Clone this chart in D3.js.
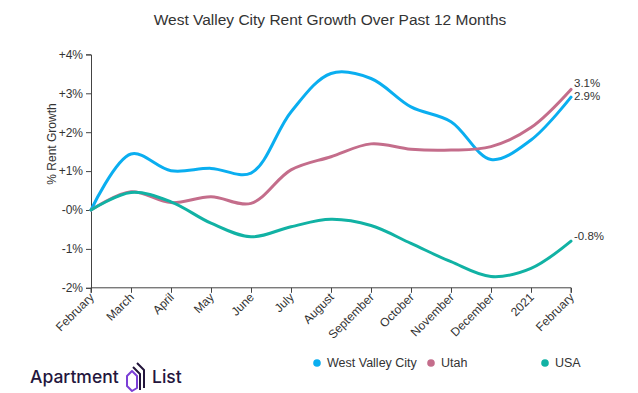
<!DOCTYPE html>
<html>
<head>
<meta charset="utf-8">
<script src="https://cdn.jsdelivr.net/npm/d3@7"></script>
<style>
  body { margin: 0; background: #fff; }
  svg { font-family: Arial, "Liberation Sans", sans-serif; }
</style>
</head>
<body>
<script>
// chart size + plot box
const width = 638;
const height = 393;
const plotLeft = 91, plotRight = 571, plotTop = 54.4, plotBottom = 287.8;

// data
const months = ["February", "March", "April", "May", "June", "July", "August",
                "September", "October", "November", "December", "2021", "February "];
const westValley = [0, 1.44, 1.01, 1.07, 0.95, 2.52, 3.51, 3.38, 2.65, 2.27, 1.30, 1.80, 2.9];
const utah       = [0, 0.47, 0.19, 0.34, 0.17, 1.03, 1.37, 1.70, 1.56, 1.54, 1.63, 2.12, 3.1];
const usa        = [0, 0.45, 0.21, -0.34, -0.69, -0.43, -0.24, -0.40, -0.86, -1.33, -1.71, -1.50, -0.8];
const yTicks = [4, 3, 2, 1, 0, -1, -2];
const yTickLabels = ["+4%", "+3%", "+2%", "+1%", "-0%", "-1%", "-2%"];
const seriesNames = ["West Valley City", "Utah", "USA"];
const endLabels = ["2.9%", "3.1%", "-0.8%"];
const colors = ["#0aaef0", "#c46d8b", "#11b2a4"];

const allSeries = [westValley, utah, usa];

const svg = d3.select("body").append("svg")
    .attr("width", width)
    .attr("height", height);

// title
svg.append("text")
    .attr("x", 330).attr("y", 25)
    .attr("text-anchor", "middle")
    .style("font-size", "15.5px")
    .style("fill", "#333")
    .text("West Valley City Rent Growth Over Past 12 Months");

// scales
const xScale = d3.scalePoint()
    .domain(months)
    .range([plotLeft, plotRight]);

const yScale = d3.scaleLinear()
    .domain([-2, 4])
    .range([plotBottom, plotTop]);

// axes
const leftAxis = d3.axisLeft(yScale)
    .tickValues(yTicks)
    .tickSize(5)
    .tickFormat((d, i) => yTickLabels[i]);

const bottomAxis = d3.axisBottom(xScale)
    .tickSize(5);

const gy = svg.append("g")
    .attr("transform", "translate(" + plotLeft + ",0)")
    .call(leftAxis);
gy.selectAll("text").style("font-size", "12px").style("fill", "#333");
gy.selectAll("line, path").attr("stroke", "#444");

const gx = svg.append("g")
    .attr("transform", "translate(0," + plotBottom + ")")
    .call(bottomAxis);
gx.select("path.domain").attr("d", "M" + plotLeft + ",5V0H" + plotRight + "V5");
gx.selectAll("line, path").attr("stroke", "#444");
gx.selectAll("text")
    .attr("transform", "translate(-4,3) rotate(-45)")
    .attr("dy", "0.35em")
    .attr("y", 6)
    .style("text-anchor", "end")
    .style("font-size", "12px")
    .style("fill", "#333");

// y label
svg.append("text")
    .attr("transform", "translate(56,144) rotate(-90)")
    .attr("text-anchor", "middle")
    .style("font-size", "12px")
    .style("fill", "#333")
    .text("% Rent Growth");

// lines
const line = d3.line()
    .x((d, i) => xScale(months[i]))
    .y(d => yScale(d))
    .curve(d3.curveCatmullRom.alpha(0.5));

svg.selectAll("path.series")
    .data(allSeries)
    .enter()
    .append("path")
    .attr("class", "series")
    .attr("d", line)
    .attr("fill", "none")
    .attr("stroke", (d, i) => colors[i])
    .attr("stroke-width", 3)
    .attr("stroke-linecap", "round");

// end labels (3.1% and 2.9% sit almost on top of each other)
const lastIdx = months.length - 1;
const labelShift = [-1.5, -6, -5];
svg.selectAll("text.endlabel")
    .data(allSeries)
    .enter()
    .append("text")
    .attr("class", "endlabel")
    .attr("x", plotRight + 3)
    .attr("y", (d, i) => yScale(d[lastIdx]) + labelShift[i])
    .attr("dy", "0.35em")
    .style("font-size", "11.5px")
    .style("fill", "#333")
    .text((d, i) => endLabels[i]);

// legend
const legendX = [317, 431, 545];
const legend = svg.selectAll("g.legend")
    .data(seriesNames)
    .enter()
    .append("g")
    .attr("class", "legend")
    .attr("transform", (d, i) => "translate(" + legendX[i] + ",363)");
legend.append("circle")
    .attr("r", 3.8)
    .attr("fill", (d, i) => colors[i]);
legend.append("text")
    .attr("x", 10)
    .attr("dy", "0.35em")
    .style("font-size", "12.5px")
    .style("fill", "#333")
    .text(d => d);

// logo
const logo = svg.append("g").attr("transform", "translate(30,383)");
logo.append("text")
    .style("font-family", "Inter, 'Noto Sans', sans-serif")
    .style("font-size", "17.5px")
    .style("font-weight", 500)
    .style("fill", "#24163d")
    .text("Apartment");
logo.append("text")
    .attr("x", 122)
    .style("font-family", "Inter, 'Noto Sans', sans-serif")
    .style("font-size", "17.5px")
    .style("font-weight", 500)
    .style("fill", "#24163d")
    .text("List");
const icon = logo.append("g").attr("transform", "translate(96,-17)")
    .attr("fill", "none").attr("stroke-width", 2)
    .attr("stroke-linejoin", "round");
icon.append("path").attr("d", "M1,10 L6,5 L11,10 L11,22 L6,25 L1,20 Z").attr("stroke", "#7b3fd6");
icon.append("path").attr("d", "M7,1 L14,8 L14,24").attr("stroke", "#24163d");
icon.append("path").attr("d", "M11,-3 L18,4 L18,22").attr("stroke", "#24163d");
</script>
</body>
</html>
